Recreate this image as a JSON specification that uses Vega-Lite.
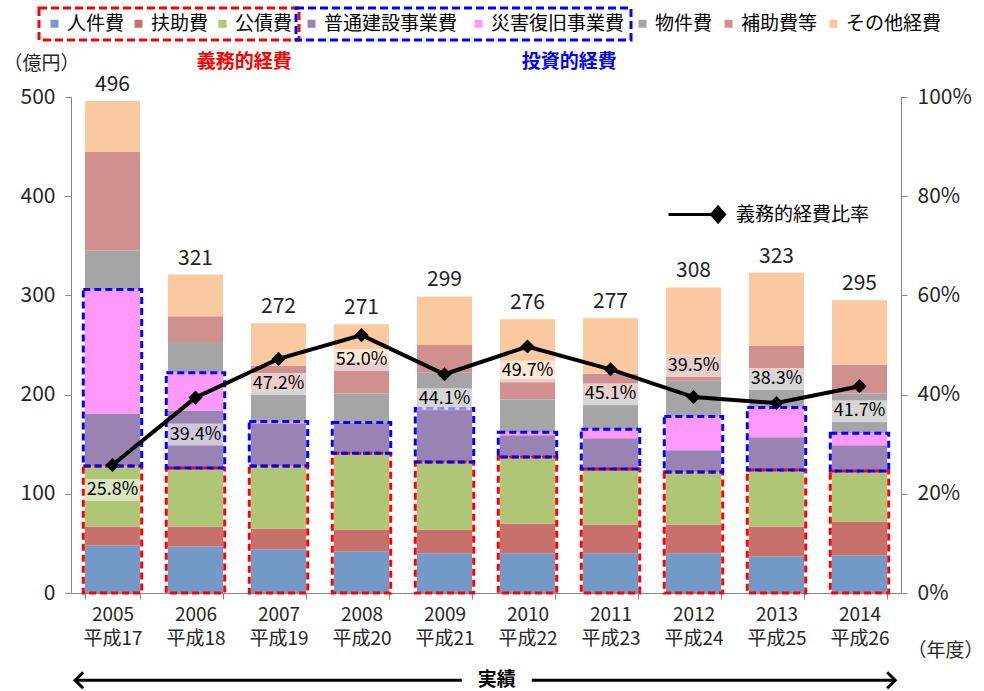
{
  "$schema": "https://vega.github.io/schema/vega-lite/v6.json",
  "width": 830,
  "height": 496,
  "autosize": {"type": "none"},
  "padding": {"left": 71, "top": 97, "right": 83, "bottom": 98},
  "config": {
    "font": "Noto Sans CJK JP",
    "view": {"stroke": null},
    "axis": {"grid": false, "domainColor": "#868686", "tickColor": "#868686", "labelColor": "#262626", "labelFontSize": 21, "titleFontWeight": "normal", "titleColor": "#262626", "labelFont": "Noto Sans CJK JP", "titleFont": "Noto Sans CJK JP"},
    "legend": {"labelFontSize": 19, "labelColor": "#000000", "symbolType": "square", "symbolSize": 64, "labelOffset": 3, "columnPadding": 14, "padding": 6, "labelFont": "Noto Sans CJK JP"}
  },
  "datasets": {
    "cats": [
      {"cat": "人件費", "idx": 1, "group": "義務"},
      {"cat": "扶助費", "idx": 2, "group": "義務"},
      {"cat": "公債費", "idx": 3, "group": "義務"},
      {"cat": "普通建設事業費", "idx": 4, "group": "投資"},
      {"cat": "災害復旧事業費", "idx": 5, "group": "投資"},
      {"cat": "物件費", "idx": 6, "group": "その他"},
      {"cat": "補助費等", "idx": 7, "group": "その他"},
      {"cat": "その他経費", "idx": 8, "group": "その他"}
    ],
    "costs": [
      {"year": "2005", "cat": "人件費", "value": 48}, {"year": "2005", "cat": "扶助費", "value": 19}, {"year": "2005", "cat": "公債費", "value": 61}, {"year": "2005", "cat": "普通建設事業費", "value": 53}, {"year": "2005", "cat": "災害復旧事業費", "value": 125}, {"year": "2005", "cat": "物件費", "value": 39}, {"year": "2005", "cat": "補助費等", "value": 100}, {"year": "2005", "cat": "その他経費", "value": 51},
      {"year": "2006", "cat": "人件費", "value": 47}, {"year": "2006", "cat": "扶助費", "value": 20}, {"year": "2006", "cat": "公債費", "value": 59}, {"year": "2006", "cat": "普通建設事業費", "value": 58}, {"year": "2006", "cat": "災害復旧事業費", "value": 38}, {"year": "2006", "cat": "物件費", "value": 31}, {"year": "2006", "cat": "補助費等", "value": 26}, {"year": "2006", "cat": "その他経費", "value": 42},
      {"year": "2007", "cat": "人件費", "value": 44}, {"year": "2007", "cat": "扶助費", "value": 21}, {"year": "2007", "cat": "公債費", "value": 63}, {"year": "2007", "cat": "普通建設事業費", "value": 43}, {"year": "2007", "cat": "災害復旧事業費", "value": 2}, {"year": "2007", "cat": "物件費", "value": 31}, {"year": "2007", "cat": "補助費等", "value": 25}, {"year": "2007", "cat": "その他経費", "value": 43},
      {"year": "2008", "cat": "人件費", "value": 42}, {"year": "2008", "cat": "扶助費", "value": 22}, {"year": "2008", "cat": "公債費", "value": 77}, {"year": "2008", "cat": "普通建設事業費", "value": 31}, {"year": "2008", "cat": "災害復旧事業費", "value": 0}, {"year": "2008", "cat": "物件費", "value": 29}, {"year": "2008", "cat": "補助費等", "value": 32}, {"year": "2008", "cat": "その他経費", "value": 38},
      {"year": "2009", "cat": "人件費", "value": 40}, {"year": "2009", "cat": "扶助費", "value": 24}, {"year": "2009", "cat": "公債費", "value": 68}, {"year": "2009", "cat": "普通建設事業費", "value": 54}, {"year": "2009", "cat": "災害復旧事業費", "value": 0}, {"year": "2009", "cat": "物件費", "value": 36}, {"year": "2009", "cat": "補助費等", "value": 28}, {"year": "2009", "cat": "その他経費", "value": 49},
      {"year": "2010", "cat": "人件費", "value": 40}, {"year": "2010", "cat": "扶助費", "value": 30}, {"year": "2010", "cat": "公債費", "value": 67}, {"year": "2010", "cat": "普通建設事業費", "value": 22}, {"year": "2010", "cat": "災害復旧事業費", "value": 3}, {"year": "2010", "cat": "物件費", "value": 33}, {"year": "2010", "cat": "補助費等", "value": 21}, {"year": "2010", "cat": "その他経費", "value": 60},
      {"year": "2011", "cat": "人件費", "value": 40}, {"year": "2011", "cat": "扶助費", "value": 29}, {"year": "2011", "cat": "公債費", "value": 56}, {"year": "2011", "cat": "普通建設事業費", "value": 31}, {"year": "2011", "cat": "災害復旧事業費", "value": 9}, {"year": "2011", "cat": "物件費", "value": 33}, {"year": "2011", "cat": "補助費等", "value": 23}, {"year": "2011", "cat": "その他経費", "value": 56},
      {"year": "2012", "cat": "人件費", "value": 40}, {"year": "2012", "cat": "扶助費", "value": 29}, {"year": "2012", "cat": "公債費", "value": 53}, {"year": "2012", "cat": "普通建設事業費", "value": 22}, {"year": "2012", "cat": "災害復旧事業費", "value": 34}, {"year": "2012", "cat": "物件費", "value": 36}, {"year": "2012", "cat": "補助費等", "value": 25}, {"year": "2012", "cat": "その他経費", "value": 69},
      {"year": "2013", "cat": "人件費", "value": 37}, {"year": "2013", "cat": "扶助費", "value": 30}, {"year": "2013", "cat": "公債費", "value": 57}, {"year": "2013", "cat": "普通建設事業費", "value": 33}, {"year": "2013", "cat": "災害復旧事業費", "value": 30}, {"year": "2013", "cat": "物件費", "value": 36}, {"year": "2013", "cat": "補助費等", "value": 26}, {"year": "2013", "cat": "その他経費", "value": 74},
      {"year": "2014", "cat": "人件費", "value": 38}, {"year": "2014", "cat": "扶助費", "value": 34}, {"year": "2014", "cat": "公債費", "value": 51}, {"year": "2014", "cat": "普通建設事業費", "value": 26}, {"year": "2014", "cat": "災害復旧事業費", "value": 12}, {"year": "2014", "cat": "物件費", "value": 40}, {"year": "2014", "cat": "補助費等", "value": 29}, {"year": "2014", "cat": "その他経費", "value": 65}
    ],
    "ratio": [
      {"year": "2005", "ratio": 0.258}, {"year": "2006", "ratio": 0.394}, {"year": "2007", "ratio": 0.472}, {"year": "2008", "ratio": 0.520}, {"year": "2009", "ratio": 0.441},
      {"year": "2010", "ratio": 0.497}, {"year": "2011", "ratio": 0.451}, {"year": "2012", "ratio": 0.395}, {"year": "2013", "ratio": 0.383}, {"year": "2014", "ratio": 0.417}
    ]
  },
  "layer": [
    {
      "data": {"name": "costs"},
      "transform": [
        {"lookup": "cat", "from": {"data": {"name": "cats"}, "key": "cat", "fields": ["idx", "group"]}},
        {"stack": "value", "groupby": ["year"], "sort": [{"field": "idx", "order": "ascending"}], "as": ["y0", "y1"]}
      ],
      "encoding": {
        "x": {
          "field": "year", "type": "nominal",
          "scale": {"paddingInner": 0.336, "paddingOuter": 0.168},
          "axis": {"title": "（年度）", "titleX": 874, "titleY": 57, "titleFontSize": 19, "titleBaseline": "middle", "titleAlign": "center", "labelExpr": "datum.label ? [datum.label, '平成' + (toNumber(datum.label) - 1988)] : ''", "labelFontSize": 19, "labelLineHeight": 24, "labelPadding": 6, "tickBand": "extent", "tickSize": 6, "labelAngle": 0}
        }
      },
      "layer": [
        {
          "transform": [{"filter": "datum.group == '義務'"}],
          "mark": {"type": "bar"},
          "encoding": {
            "y": {"field": "y0", "type": "quantitative", "scale": {"domain": [0, 500], "nice": false}, "axis": {"title": "（億円）", "titleAngle": 0, "titleX": -30, "titleY": -34, "titleAlign": "center", "titleBaseline": "middle", "titleFontSize": 19, "values": [0, 100, 200, 300, 400, 500], "tickSize": 6, "labelPadding": 10}},
            "y2": {"field": "y1"},
            "color": {"field": "cat", "type": "nominal", "scale": {"domain": ["人件費", "扶助費", "公債費"], "range": ["#7399C6", "#C8706B", "#AFC677"]},
              "legend": {"orient": "none", "legendX": -32, "legendY": -89, "direction": "horizontal", "title": null, "columnPadding": 4, "strokeColor": "#FF0000", "encode": {"legend": {"update": {"strokeDash": {"value": [8, 4]}, "strokeWidth": {"value": 3}}}}}}
          }
        },
        {
          "transform": [{"filter": "datum.group == '投資'"}],
          "mark": {"type": "bar"},
          "encoding": {
            "y": {"field": "y0", "type": "quantitative"},
            "y2": {"field": "y1"},
            "color": {"field": "cat", "type": "nominal", "scale": {"domain": ["普通建設事業費", "災害復旧事業費"], "range": ["#9983B2", "#FF99FF"]},
              "legend": {"orient": "none", "legendX": 225, "legendY": -89, "direction": "horizontal", "title": null, "columnPadding": 11, "strokeColor": "#0000FF", "encode": {"legend": {"update": {"strokeDash": {"value": [8, 4]}, "strokeWidth": {"value": 3}}}}}}
          }
        },
        {
          "transform": [{"filter": "datum.group == 'その他'"}],
          "mark": {"type": "bar"},
          "encoding": {
            "y": {"field": "y0", "type": "quantitative"},
            "y2": {"field": "y1"},
            "color": {"field": "cat", "type": "nominal", "scale": {"domain": ["物件費", "補助費等", "その他経費"], "range": ["#A5A5A5", "#D09090", "#FAC9A0"]},
              "legend": {"orient": "none", "legendX": 556, "legendY": -89, "direction": "horizontal", "title": null, "columnPadding": 6}}
          }
        },
        {
          "transform": [
            {"filter": "datum.group != 'その他'"},
            {"aggregate": [{"op": "min", "field": "y0", "as": "lo"}, {"op": "max", "field": "y1", "as": "hi"}], "groupby": ["year", "group"]}
          ],
          "mark": {"type": "bar", "filled": false, "strokeWidth": 3, "strokeDash": [7, 4], "width": {"band": 1.06}},
          "encoding": {
            "y": {"field": "lo", "type": "quantitative"},
            "y2": {"field": "hi"},
            "stroke": {"field": "group", "type": "nominal", "scale": {"domain": ["義務", "投資"], "range": ["#FF0000", "#0000FF"]}, "legend": null}
          }
        },
        {
          "transform": [{"aggregate": [{"op": "sum", "field": "value", "as": "total"}], "groupby": ["year"]}],
          "mark": {"type": "text", "fontSize": 21, "dy": -16, "color": "#222222"},
          "encoding": {
            "y": {"field": "total", "type": "quantitative"},
            "text": {"field": "total", "type": "quantitative"}
          }
        },
        {
          "transform": [{"filter": "datum.year == '2005' && datum.idx == 1"}],
          "mark": {"type": "text", "text": "義務的経費", "color": "#FF0000", "fontWeight": "bold", "fontSize": 19},
          "encoding": {
            "x": {"datum": "2007", "bandPosition": -0.12},
            "y": {"datum": 535, "type": "quantitative"}
          }
        },
        {
          "transform": [{"filter": "datum.year == '2005' && datum.idx == 1"}],
          "mark": {"type": "text", "text": "投資的経費", "color": "#0000FF", "fontWeight": "bold", "fontSize": 19},
          "encoding": {
            "x": {"datum": "2011", "bandPosition": -0.25},
            "y": {"datum": 535, "type": "quantitative"}
          }
        }
      ],
      "resolve": {"scale": {"color": "independent"}}
    },
    {
      "data": {"name": "ratio"},
      "encoding": {
        "x": {"field": "year", "type": "nominal", "scale": {"paddingInner": 0.336, "paddingOuter": 0.168}, "axis": null},
        "y": {"field": "ratio", "type": "quantitative", "scale": {"domain": [0, 1], "nice": false}, "axis": {"orient": "right", "format": "%", "values": [0, 0.2, 0.4, 0.6, 0.8, 1], "title": null, "tickSize": 6, "labelPadding": 10}}
      },
      "layer": [
        {
          "mark": {"type": "line", "strokeWidth": 4},
          "encoding": {
            "stroke": {"datum": "義務的経費比率", "type": "nominal", "scale": {"range": ["#000000"]},
              "legend": {"orient": "none", "legendX": 590, "legendY": 82, "title": null, "symbolType": "M-1,0L0.54,0M0.54,0L0.77,-0.27L1,0L0.77,0.27Z", "symbolSize": 3136, "symbolStrokeWidth": 3, "labelFontSize": 19, "labelOffset": 10, "encode": {"symbols": {"update": {"fill": {"value": "#000000"}, "stroke": {"value": "#000000"}}}}}}
          }
        },
        {"mark": {"type": "point", "shape": "diamond", "filled": true, "color": "#000000", "size": 200, "opacity": 1}},
        {
          "transform": [{"filter": {"field": "year", "oneOf": ["2005", "2007", "2008", "2009", "2010", "2011", "2014"]}}],
          "layer": [
            {"mark": {"type": "point", "shape": "M-1,-0.4H1V0.4H-1Z", "filled": true, "color": "#FFFFFF", "opacity": 0.55, "size": 3025, "yOffset": 25}},
            {"mark": {"type": "text", "fontSize": 18, "color": "#000000", "yOffset": 25}, "encoding": {"text": {"field": "ratio", "type": "quantitative", "format": ".1%"}}}
          ]
        },
        {
          "transform": [{"filter": "datum.year == '2006'"}],
          "layer": [
            {"mark": {"type": "point", "shape": "M-1,-0.4H1V0.4H-1Z", "filled": true, "color": "#FFFFFF", "opacity": 0.55, "size": 3025, "yOffset": 37}},
            {"mark": {"type": "text", "fontSize": 18, "color": "#000000", "yOffset": 37}, "encoding": {"text": {"field": "ratio", "type": "quantitative", "format": ".1%"}}}
          ]
        },
        {
          "transform": [{"filter": "datum.year == '2012'"}],
          "layer": [
            {"mark": {"type": "point", "shape": "M-1,-0.4H1V0.4H-1Z", "filled": true, "color": "#FFFFFF", "opacity": 0.55, "size": 3025, "yOffset": -31}},
            {"mark": {"type": "text", "fontSize": 18, "color": "#000000", "yOffset": -31}, "encoding": {"text": {"field": "ratio", "type": "quantitative", "format": ".1%"}}}
          ]
        },
        {
          "transform": [{"filter": "datum.year == '2013'"}],
          "layer": [
            {"mark": {"type": "point", "shape": "M-1,-0.4H1V0.4H-1Z", "filled": true, "color": "#FFFFFF", "opacity": 0.55, "size": 3025, "yOffset": -24}},
            {"mark": {"type": "text", "fontSize": 18, "color": "#000000", "yOffset": -24}, "encoding": {"text": {"field": "ratio", "type": "quantitative", "format": ".1%"}}}
          ]
        }
      ]
    },
    {
      "data": {"values": [{"label": "実績"}]},
      "encoding": {
        "y": {"datum": -0.176, "type": "quantitative", "scale": {"domain": [0, 1], "nice": false}, "axis": null}
      },
      "layer": [
        {
          "mark": {"type": "rule", "strokeWidth": 3, "color": "#000000"},
          "encoding": {
            "x": {"datum": 0.005, "type": "quantitative", "scale": {"domain": [0, 1], "nice": false, "zero": false}, "axis": null},
            "x2": {"datum": 0.993}
          }
        },
        {
          "mark": {"type": "point", "shape": "M1,-1L0,0L1,1", "filled": false, "color": "#000000", "strokeWidth": 3, "size": 256, "opacity": 1},
          "encoding": {"x": {"datum": 0.005, "type": "quantitative"}}
        },
        {
          "mark": {"type": "point", "shape": "M-1,-1L0,0L-1,1", "filled": false, "color": "#000000", "strokeWidth": 3, "size": 256, "opacity": 1},
          "encoding": {"x": {"datum": 0.993, "type": "quantitative"}}
        },
        {
          "mark": {"type": "point", "shape": "M-1,-0.3H1V0.3H-1Z", "filled": true, "color": "#FFFFFF", "size": 4900, "opacity": 1},
          "encoding": {"x": {"datum": 0.513, "type": "quantitative"}}
        },
        {
          "mark": {"type": "text", "fontSize": 19, "fontWeight": "bold", "color": "#000000"},
          "encoding": {"x": {"datum": 0.513, "type": "quantitative"}, "text": {"field": "label"}}
        }
      ]
    }
  ],
  "resolve": {"scale": {"x": "independent", "y": "independent", "color": "independent", "stroke": "independent"}}
}
